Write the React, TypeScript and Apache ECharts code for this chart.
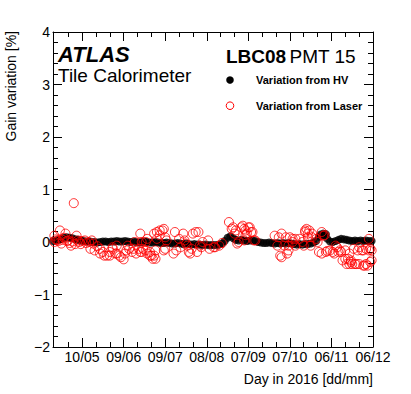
import React, { useEffect, useRef } from "react";
import * as echarts from "echarts";

const FONT = "'Liberation Sans', Arial, Helvetica, sans-serif";

// x axis: day of year 2016
const xMin = 110;
const xMax = 341;
const majorTickDays = [131, 161, 191, 221, 251, 281, 311, 341];
const majorTickLabels = ["10/05", "09/06", "09/07", "08/08", "07/09", "07/10", "06/11", "06/12"];
const minorTickDays = [121, 141, 151, 171, 181, 201, 211, 231, 241, 261, 271, 291, 301, 321, 331];

// y axis
const yMin = -2;
const yMax = 4;
const yStep = 1;

// Variation from HV [day, %]
const hvData: [number, number][] = [
  [110, 0.02], [112, 0.03], [114, 0.04], [116, 0.06], [118, 0.08], [120, 0.09], [122, 0.08], [124, 0.07],
  [126, 0.05], [128, 0.04], [130, 0.03], [132, 0.02], [134, 0.01], [136, 0.01], [138, 0.0], [140, 0.0],
  [142, -0.01], [144, 0.0], [146, 0.01], [148, 0.01], [150, 0.0], [152, 0.01], [154, 0.01], [156, 0.02],
  [158, 0.01], [160, 0.01], [162, 0.02], [164, 0.01], [166, 0.0], [168, 0.01], [170, 0.0], [172, -0.01],
  [174, 0.0], [176, 0.01], [178, 0.0], [180, -0.01], [182, -0.01], [184, 0.0], [186, -0.01], [188, -0.02],
  [190, -0.02], [192, -0.01], [194, -0.02], [196, -0.03], [198, -0.03], [200, -0.02], [202, -0.03], [204, -0.04],
  [206, -0.03], [208, -0.04], [210, -0.05], [212, -0.04], [214, -0.05], [216, -0.05], [218, -0.06], [220, -0.05],
  [222, -0.06], [224, -0.06], [226, -0.06], [228, -0.06], [230, -0.05], [232, -0.03], [234, 0.02], [236, 0.08],
  [238, 0.11], [240, 0.07], [242, 0.04], [244, 0.03], [246, 0.04], [248, 0.03], [250, 0.02], [252, 0.03],
  [254, 0.03], [256, 0.02], [258, 0.0], [260, -0.01], [262, -0.02], [264, -0.02], [266, -0.01], [268, -0.02],
  [270, -0.03], [272, -0.02], [274, -0.03], [276, -0.02], [278, -0.03], [280, -0.02], [282, -0.03], [284, -0.04],
  [286, -0.05], [288, -0.04], [290, -0.05], [292, -0.04], [294, -0.04], [296, -0.03], [298, -0.01], [300, 0.02],
  [302, 0.1], [303, 0.14], [304, 0.12], [305, 0.16], [306, 0.13], [307, 0.15], [308, 0.06], [310, 0.01],
  [312, 0.0], [314, 0.02], [316, 0.04], [318, 0.06], [320, 0.05], [322, 0.04], [324, 0.03], [326, 0.02],
  [328, 0.03], [330, 0.02], [332, 0.03], [334, 0.02], [336, 0.03], [338, 0.02], [340, 0.02],
];

// Variation from Laser [day, %]
const laserData: [number, number][] = [
  [111, 0.12], [111, 0.0], [112, 0.05], [113, 0.03], [114, 0.02], [115, 0.22], [116, -0.03], [117, 0.04],
  [118, 0.08], [119, 0.16], [120, 0.02], [121, 0.03], [122, -0.02], [123, -0.07], [124, 0.01], [125, 0.74],
  [126, -0.04], [127, 0.12], [128, 0.03], [129, 0.0], [130, -0.04], [131, 0.02], [133, 0.03], [134, -0.02],
  [136, 0.0], [137, -0.13], [138, 0.03], [139, -0.03], [140, -0.16],
  [142, -0.08], [144, -0.13], [144, -0.22], [146, -0.19], [147, -0.26], [149, -0.26], [151, -0.26], [151, -0.19],
  [153, -0.1], [153, -0.13], [155, -0.22], [156, -0.07], [156, -0.22], [158, -0.26], [159, -0.29], [161, -0.33],
  [162, -0.22], [163, -0.16], [164, -0.07], [165, -0.13], [167, -0.19], [168, -0.13], [169, 0.0], [170, -0.22],
  [172, -0.13], [173, -0.19], [173, 0.16], [174, 0.0], [174, -0.19], [175, -0.13], [177, -0.16], [177, 0.0],
  [178, -0.22], [178, 0.06], [180, -0.19], [180, -0.26], [181, -0.26], [182, -0.32], [183, -0.26], [184, -0.32],
  [184, -0.16], [183, 0.16],
  [185, 0.19], [185, 0.06], [187, 0.22], [187, 0.13], [189, 0.22], [190, 0.25], [190, -0.16], [191, 0.09],
  [191, -0.13], [192, 0.03], [197, -0.22], [198, 0.19], [199, -0.16], [201, 0.06], [202, -0.1], [204, 0.16],
  [205, 0.03], [206, -0.03], [207, -0.07], [208, -0.19], [209, -0.22], [210, -0.13], [211, 0.16], [213, 0.19],
  [214, -0.19], [215, 0.19], [216, -0.07], [217, -0.1], [218, 0.0], [222, 0.03], [223, -0.13], [226, -0.1],
  [227, -0.1], [230, -0.07], [232, -0.02], [237, 0.38], [239, 0.25], [240, 0.28], [241, 0.16], [242, 0.22],
  [243, -0.03], [244, 0.0], [246, 0.28], [247, 0.31], [248, 0.25], [248, 0.03], [249, 0.22], [249, 0.13],
  [250, 0.16], [251, 0.28], [252, 0.28], [253, 0.19], [254, 0.19], [255, 0.03], [256, 0.03],
  [270, 0.12], [272, -0.07], [273, 0.09], [274, -0.26], [275, -0.29], [275, 0.16], [277, -0.07], [278, 0.09],
  [279, -0.22], [280, -0.07], [280, -0.16], [281, 0.09], [283, 0.06], [283, 0.0], [285, -0.07], [285, 0.06],
  [288, 0.06], [290, 0.0], [291, -0.07], [292, 0.22], [292, 0.19], [293, 0.25], [294, 0.09], [294, 0.16],
  [295, 0.22], [296, -0.07], [297, 0.16], [297, 0.09], [300, 0.06], [301, 0.0],
  [302, -0.19], [304, 0.19], [304, -0.22], [305, 0.12], [306, 0.13], [307, -0.19], [308, -0.17], [310, -0.16],
  [312, -0.19], [313, -0.22], [314, -0.07], [315, -0.1], [316, -0.19], [317, -0.16], [318, -0.19], [319, -0.35],
  [321, -0.16], [321, -0.32], [322, -0.42], [323, -0.32], [324, -0.22], [324, -0.42], [325, -0.35], [325, -0.38],
  [326, -0.42], [327, -0.13], [328, -0.42], [329, -0.42], [330, -0.16], [331, -0.1], [331, -0.42], [333, -0.16],
  [334, -0.16], [334, -0.45], [335, -0.45], [336, -0.13], [336, -0.42], [337, -0.45], [338, 0.06], [338, -0.16],
  [339, -0.13], [339, -0.38], [340, -0.35], [340, -0.16],
];

export default function App() {
  const ref = useRef<HTMLDivElement>(null);

  useEffect(() => {
    if (!ref.current) return;
    const chart = echarts.init(ref.current, null, { renderer: "svg" });
    const labelMap: Record<number, string> = {};
    majorTickDays.forEach((d, i) => (labelMap[d] = majorTickLabels[i]));

    const grid = { left: 53, top: 32, width: 320, height: 315 };
    const lineStyle = { color: "#000", width: 1 };

    const xBase = (position: string, ticks: number[], len: number, showLine: boolean, showLabel: boolean) => ({
      type: "value",
      gridIndex: 0,
      position,
      min: xMin,
      max: xMax,
      splitLine: { show: false },
      axisLine: { show: showLine, onZero: false, lineStyle },
      axisTick: { show: true, inside: true, length: len, customValues: ticks, lineStyle },
      axisLabel: showLabel
        ? {
            show: true,
            customValues: ticks,
            formatter: (v: number) => labelMap[v] ?? "",
            fontSize: 14,
            color: "#000",
            fontFamily: FONT,
            margin: 3,
            showMaxLabel: true,
            showMinLabel: true,
          }
        : { show: false },
    });

    const yBase = (position: string, showLabel: boolean) => ({
      type: "value",
      gridIndex: 0,
      position,
      min: yMin,
      max: yMax,
      interval: yStep,
      splitLine: { show: false },
      axisLine: { show: true, onZero: false, lineStyle },
      axisTick: { show: true, inside: true, length: 9, lineStyle },
      minorTick: { show: true, splitNumber: 5, length: 5, lineStyle },
      axisLabel: showLabel
        ? {
            show: true,
            fontSize: 14,
            color: "#000",
            fontFamily: FONT,
            margin: 3,
            formatter: (v: number) => (v < 0 ? "\u2212" + Math.abs(v) : String(v)),
          }
        : { show: false },
    });

    chart.setOption({
      animation: false,
      backgroundColor: "#fff",
      textStyle: { fontFamily: FONT },
      grid,
      xAxis: [
        xBase("bottom", majorTickDays, 9, true, true),
        xBase("bottom", minorTickDays, 5, false, false),
        xBase("top", majorTickDays, 9, true, false),
        xBase("top", minorTickDays, 5, false, false),
      ],
      yAxis: [yBase("left", true), yBase("right", false)],
      series: [
        {
          name: "Variation from HV",
          type: "scatter",
          xAxisIndex: 0,
          yAxisIndex: 0,
          symbol: "circle",
          symbolSize: 8,
          itemStyle: { color: "#000" },
          data: hvData,
          z: 2,
        },
        {
          name: "Variation from Laser",
          type: "scatter",
          xAxisIndex: 0,
          yAxisIndex: 0,
          symbol: "circle",
          symbolSize: 9,
          itemStyle: { color: "transparent", borderColor: "#ff0000", borderWidth: 1 },
          data: laserData,
          z: 3,
        },
      ],
      graphic: [
        {
          type: "text",
          x: 58,
          y: 54.2,
          style: {
            text: "ATLAS",
            fontFamily: FONT,
            fontSize: 22,
            fontWeight: "bold",
            fontStyle: "italic",
            fill: "#000",
            align: "left",
            verticalAlign: "middle",
          },
        },
        {
          type: "text",
          x: 58,
          y: 75.8,
          style: {
            text: "Tile Calorimeter",
            fontFamily: FONT,
            fontSize: 19,
            fill: "#000",
            align: "left",
            verticalAlign: "middle",
          },
        },
        {
          type: "text",
          x: 226,
          y: 56.5,
          style: {
            text: "{b|LBC08} {n|PMT 15}",
            fontFamily: FONT,
            fill: "#000",
            align: "left",
            verticalAlign: "middle",
            rich: {
              b: { fontFamily: FONT, fontSize: 19, fontWeight: "bold", fill: "#000" },
              n: { fontFamily: FONT, fontSize: 19, fill: "#000" },
            },
          },
        },
        {
          type: "circle",
          shape: { cx: 230, cy: 80, r: 3.8 },
          style: { fill: "#000" },
        },
        {
          type: "text",
          x: 256,
          y: 79.5,
          style: {
            text: "Variation from HV",
            fontFamily: FONT,
            fontSize: 11,
            fontWeight: "bold",
            fill: "#000",
            align: "left",
            verticalAlign: "middle",
          },
        },
        {
          type: "circle",
          shape: { cx: 230, cy: 105.7, r: 3.8 },
          style: { fill: "none", stroke: "#ff0000", lineWidth: 1 },
        },
        {
          type: "text",
          x: 256,
          y: 106,
          style: {
            text: "Variation from Laser",
            fontFamily: FONT,
            fontSize: 11,
            fontWeight: "bold",
            fill: "#000",
            align: "left",
            verticalAlign: "middle",
          },
        },
        {
          type: "text",
          x: 11,
          y: 31,
          rotation: Math.PI / 2,
          style: {
            text: "Gain variation [%]",
            fontFamily: FONT,
            fontSize: 14,
            fill: "#000",
            align: "right",
            verticalAlign: "middle",
          },
        },
        {
          type: "text",
          x: 373,
          y: 379,
          style: {
            text: "Day in 2016 [dd/mm]",
            fontFamily: FONT,
            fontSize: 14,
            fill: "#000",
            align: "right",
            verticalAlign: "middle",
          },
        },
      ],
    });

    return () => chart.dispose();
  }, []);

  return (
    <div
      ref={ref}
      style={{ position: "fixed", left: 0, top: 0, width: 411, height: 394, background: "#fff" }}
    />
  );
}
